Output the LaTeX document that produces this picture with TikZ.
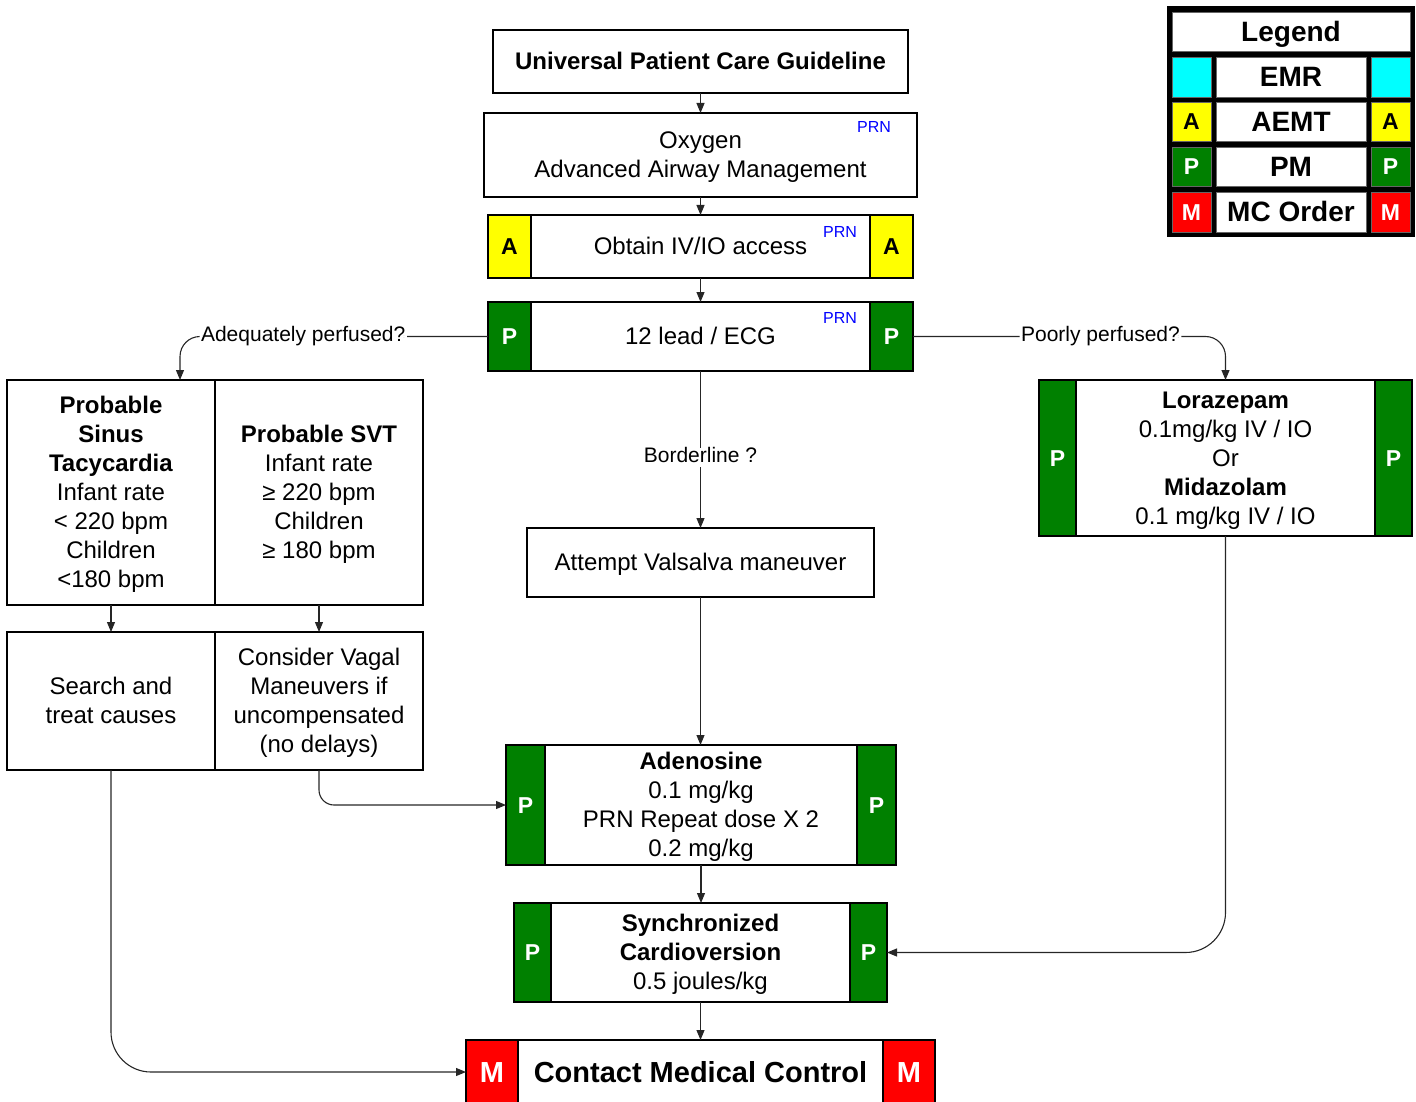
\documentclass[tikz,border=0pt]{standalone}
\usepackage{fontspec}
\setmainfont{Liberation Sans}
\usetikzlibrary{arrows.meta,fit,calc}
\definecolor{pgreen}{RGB}{0,128,0}
\definecolor{ayellow}{RGB}{255,255,0}
\definecolor{mred}{RGB}{255,0,0}
\definecolor{ecyan}{RGB}{0,255,255}
\newcommand\fs[2]{\fontsize{#1}{#2}\selectfont}
\newcommand\ls{\rule[-6.5pt]{0pt}{29pt}}
\newcommand\sidetabs[4]{%
  \node[#3, fit={(#1.north west)([xshift=#2]#1.south west)}] (#1L) {};
  \node[#3, fit={(#1.north east)([xshift=-#2]#1.south east)}] (#1R) {};
  \node[#3txt] (#1Lt) at (#1L.center) {#4};
  \node[#3txt] (#1Rt) at (#1R.center) {#4};}
\tikzset{
 box/.style={draw=black, line width=1.4pt, fill=white, inner sep=0pt, outer sep=0pt, align=center, font=\fs{24}{29}},
 tab/.style={draw=black, line width=1.4pt, inner sep=0pt, outer sep=0pt},
 tabtxt/.style={inner sep=0pt, font=\bfseries\fs{23}{28}, text height=16.5pt, text depth=0pt},
 tabP/.style={tab, fill=pgreen},
 tabA/.style={tab, fill=ayellow},
 tabM/.style={tab, fill=mred},
 tabPtxt/.style={tabtxt, text=white},
 tabAtxt/.style={tabtxt, text=black},
 tabMtxt/.style={tabtxt, text=white, font=\bfseries\fs{29}{34}, text height=20.8pt},
 conn/.style={draw=black!85, line width=1.1pt},
 arr/.style={conn, -{Triangle[length=10pt,width=8pt]}},
 elabel/.style={fill=white, inner xsep=1.5pt, inner ysep=0pt, font=\fs{21}{25}, text height=15pt, text depth=4.5pt},
 prn/.style={text=blue, font=\fs{16}{19}, inner sep=0pt},
 lcell/.style={draw=black!60, line width=0.6pt, inner sep=0pt, outer sep=0pt, font=\bfseries\fs{28}{32}, text height=20pt, text depth=0pt},
 lsmall/.style={lcell, font=\bfseries\fs{23}{28}, text height=16.5pt},
}
\begin{document}
\begin{tikzpicture}[x=1pt,y=-1pt]
\useasboundingbox (0,0) rectangle (1416,1102);
% main column
\node[box, minimum width=415pt, minimum height=63pt, font=\bfseries\fs{24}{29}] (ucg) at (700.5,61.5) {\ls Universal Patient Care Guideline};
\node[box, minimum width=433pt, minimum height=84pt] (oxy) at (700.5,155) {\ls Oxygen\\\ls Advanced Airway Management};
\node[prn] (prn1) at (874,127) {PRN};
\node[box, minimum width=425pt, minimum height=63pt] (iv) at (700.5,246.5) {\ls Obtain IV/IO access};
\sidetabs{iv}{43pt}{tabA}{A}
\node[prn] (prn2) at (840,232) {PRN};
\node[box, minimum width=425pt, minimum height=69pt] (ecg) at (700.5,336.5) {\ls 12 lead / ECG};
\sidetabs{ecg}{43pt}{tabP}{P}
\node[prn] (prn3) at (840,318) {PRN};
% left tables
\node[box, minimum width=208pt, minimum height=225pt] (sinus) at (111,492.5) {\ls\textbf{Probable}\\\ls\textbf{Sinus}\\\ls\textbf{Tacycardia}\\\ls Infant rate\\\ls < 220 bpm\\\ls Children\\\ls <180 bpm};
\node[box, minimum width=208pt, minimum height=225pt] (svt) at (319,492.5) {\ls\textbf{Probable SVT}\\\ls Infant rate\\\ls ≥ 220 bpm\\\ls Children\\\ls ≥ 180 bpm};
\node[box, minimum width=208pt, minimum height=138pt] (search) at (111,701) {\ls Search and\\\ls treat causes};
\node[box, minimum width=208pt, minimum height=138pt] (vagal) at (319,701) {\ls Consider Vagal\\\ls Maneuvers if\\\ls uncompensated\\\ls (no delays)};
% center lower
\node[box, minimum width=347pt, minimum height=69pt] (val) at (700.5,562.5) {\ls Attempt Valsalva maneuver};
\node[box, minimum width=390pt, minimum height=120pt] (aden) at (701,805) {\ls\textbf{Adenosine}\\\ls 0.1 mg/kg\\\ls PRN Repeat dose X 2\\\ls 0.2 mg/kg};
\sidetabs{aden}{39pt}{tabP}{P}
\node[box, minimum width=373pt, minimum height=99pt] (sync) at (700.5,952.5) {\ls\textbf{Synchronized}\\\ls\textbf{Cardioversion}\\\ls 0.5 joules/kg};
\sidetabs{sync}{37pt}{tabP}{P}
\node[box, minimum width=469pt, minimum height=64pt, font=\bfseries\fs{29}{34}, text height=20.8pt, text depth=0pt] (contact) at (700.5,1072) {Contact Medical Control};
\sidetabs{contact}{52pt}{tabM}{M}
% right
\node[box, minimum width=373pt, minimum height=156pt] (lora) at (1225.5,458) {\ls\textbf{Lorazepam}\\\ls 0.1mg/kg IV / IO\\\ls Or\\\ls\textbf{Midazolam}\\\ls 0.1 mg/kg IV / IO};
\sidetabs{lora}{37pt}{tabP}{P}
% connectors
\draw[arr] (ucg.south) -- (oxy.north);
\draw[arr] (oxy.south) -- (iv.north);
\draw[arr] (iv.south) -- (ecg.north);
\draw[arr] (ecg.south) -- node[elabel, pos=0.55] (border) {Borderline ?} (val.north);
\draw[arr] (val.south) -- (val.south |- aden.north);
\draw[arr] (aden.south) -- (aden.south |- sync.north);
\draw[arr] (sync.south) -- (contact.north);
\draw[arr, rounded corners=20pt] (ecg.west) -| node[elabel, pos=0.3] (adq) {Adequately perfused?} ([xshift=69pt]sinus.north);
\draw[arr, rounded corners=20pt] (ecg.east) -| node[elabel, pos=0.3] (poor) {Poorly perfused?} (lora.north);
\draw[arr] (sinus.south) -- (search.north);
\draw[arr] (svt.south) -- (vagal.north);
\draw[arr, rounded corners=15pt] (vagal.south) |- (aden.west);
\draw[arr, rounded corners=40pt] (search.south) |- (contact.west);
\draw[arr, rounded corners=40pt] (lora.south) |- (sync.east);
% legend
\node[fill=black, minimum width=248pt, minimum height=231pt, inner sep=0pt, outer sep=0pt] (legend) at (1291,121.5) {};
\node[lcell, fill=white, minimum width=238pt, minimum height=39pt] (lgtitle) at (1291,31.5) {Legend};
\node[lcell, fill=ecyan, minimum width=39pt, minimum height=40pt] (lgemrL) at (1191.5,77) {};
\node[lcell, fill=white, minimum width=150pt, minimum height=40pt] (lgemr) at (1291,77) {EMR};
\node[lcell, fill=ecyan, minimum width=39pt, minimum height=40pt] (lgemrR) at (1390.5,77) {};
\node[lsmall, fill=ayellow, minimum width=39pt, minimum height=39pt] (lgaemtL) at (1191.5,121.5) {A};
\node[lcell, fill=white, minimum width=150pt, minimum height=39pt] (lgaemt) at (1291,121.5) {AEMT};
\node[lsmall, fill=ayellow, minimum width=39pt, minimum height=39pt] (lgaemtR) at (1390.5,121.5) {A};
\node[lsmall, fill=pgreen, text=white, minimum width=39pt, minimum height=39pt] (lgpmL) at (1191.5,166.5) {P};
\node[lcell, fill=white, minimum width=150pt, minimum height=39pt] (lgpm) at (1291,166.5) {PM};
\node[lsmall, fill=pgreen, text=white, minimum width=39pt, minimum height=39pt] (lgpmR) at (1390.5,166.5) {P};
\node[lsmall, fill=mred, text=white, minimum width=39pt, minimum height=40pt] (lgmcL) at (1191.5,212) {M};
\node[lcell, fill=white, minimum width=150pt, minimum height=40pt] (lgmc) at (1291,212) {MC Order};
\node[lsmall, fill=mred, text=white, minimum width=39pt, minimum height=40pt] (lgmcR) at (1390.5,212) {M};
\end{tikzpicture}
\end{document}
